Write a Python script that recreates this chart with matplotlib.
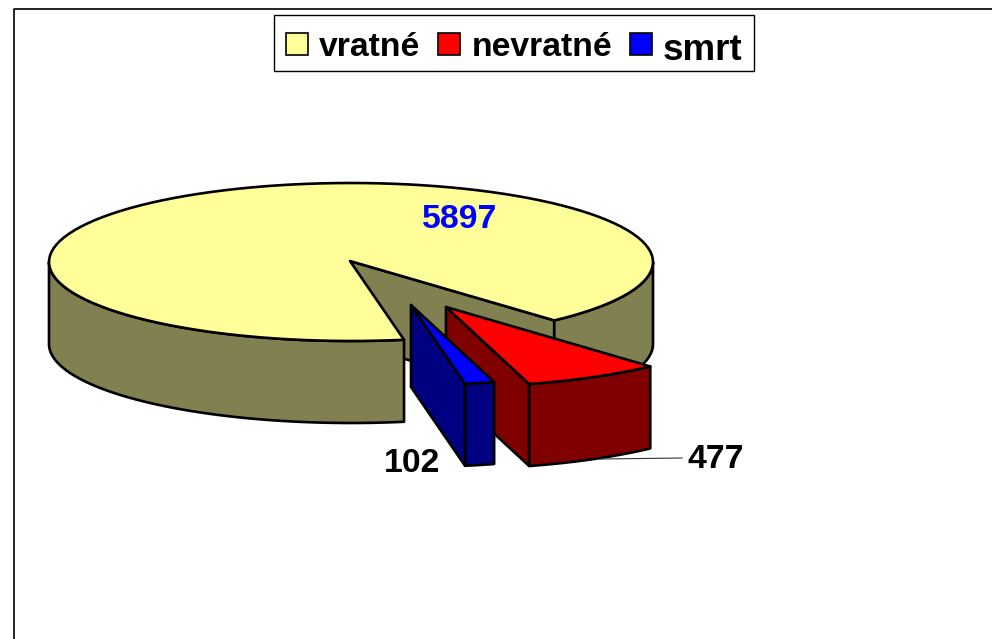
import numpy as np
import matplotlib
matplotlib.use("Agg")
import matplotlib.pyplot as plt
from matplotlib.patches import Polygon, Rectangle

labels = ["vratné", "nevratné", "smrt"]
values = [5897, 477, 102]
face_colors = ["#FFFF99", "#FF0000", "#0000FF"]
side_colors = ["#808050", "#800000", "#000080"]

plt.rcParams["font.family"] = ["Liberation Sans", "DejaVu Sans"]

W, H = 992, 639
fig = plt.figure(figsize=(W / 100, H / 100), dpi=100)
ax = fig.add_axes([0, 0, 1, 1])
ax.set_xlim(0, W)
ax.set_ylim(H, 0)
ax.axis("off")

# pie geometry in pixels
cx, cy, rx, ry, depth = 351, 262, 302, 79, 82
red_start = 47.7
lw = 1.9
total = sum(values)
spans = [v / total * 360 for v in values]
a_red_end = red_start + spans[1]
a_blue_end = a_red_end + spans[2]


def arc(a0, a1, ox=0, oy=0, dy=0, n=120):
    t = np.radians(np.linspace(a0, a1, n))
    return np.column_stack([cx + ox + rx * np.cos(t), cy + oy + ry * np.sin(t) + dy])


def poly(pts, fc, z):
    ax.add_patch(Polygon(pts, closed=True, fc=fc, ec="black", lw=lw, joinstyle="round", zorder=z))


def pt(a, ox=0, oy=0, dy=0):
    return arc(a, a, ox, oy, dy, 1)[0]


# frame
ax.plot([13.5, 13.5, W], [H, 9, 9], color="black", lw=1.2, zorder=1)

# main slice
apex = np.array([cx - 1, cy - 1])
a_y0, a_y1 = a_blue_end, red_start + 360
down = np.array([0, depth])
edge = pt(red_start)
poly([apex, edge, edge + down, apex + down], side_colors[0], 2)
poly(np.vstack([arc(a_y0, 180), arc(a_y0, 180, dy=depth)[::-1]]), side_colors[0], 3)
poly(np.vstack([arc(0, red_start), arc(0, red_start, dy=depth)[::-1]]), side_colors[0], 3)
poly(np.vstack([[apex], arc(a_y0, a_y1)]), face_colors[0], 4)

# red slice, exploded
ro = (96, 46)
rapex = apex + np.array(ro)
r0 = pt(a_red_end, *ro)
poly([rapex, r0, r0 + down, rapex + down], side_colors[1], 5)
poly(np.vstack([arc(red_start, a_red_end, *ro), arc(red_start, a_red_end, *ro, dy=depth)[::-1]]), side_colors[1], 5)
poly(np.vstack([[rapex], arc(red_start, a_red_end, *ro)]), face_colors[1], 5)

# blue slice, exploded, in front of the red one
bo = (61, 44)
bapex = apex + np.array(bo)
b0 = pt(a_blue_end, *bo)
poly(np.vstack([arc(a_red_end, a_blue_end, *bo), arc(a_red_end, a_blue_end, *bo, dy=depth)[::-1]]), side_colors[2], 6)
poly([bapex, b0, b0 + down, bapex + down], side_colors[2], 6)
poly(np.vstack([[bapex], arc(a_red_end, a_blue_end, *bo)]), face_colors[2], 6)

# data labels
ax.plot([600, 682], [459, 458], color="#333333", lw=0.8, zorder=5)
fs = 24.3
ax.text(460, 219, str(values[0]), color="#0000FF", fontsize=fs, fontweight="bold", ha="center", va="center", zorder=8)
ax.text(412, 463, str(values[2]), color="black", fontsize=fs, fontweight="bold", ha="center", va="center", zorder=8)
ax.text(716, 459, str(values[1]), color="black", fontsize=fs, fontweight="bold", ha="center", va="center", zorder=8)

# legend
ax.add_patch(Rectangle((274, 15), 480, 56, fc="white", ec="black", lw=1, zorder=7))
swatch_x = [286, 438, 630]
text_x = [319, 472, 663]
base_y = [56, 56, 60]
text_fs = [24.3, 24.3, 26.5]
for i, lab in enumerate(labels):
    ax.add_patch(Rectangle((swatch_x[i], 33), 22, 22, fc=face_colors[i], ec="black", lw=1.2, zorder=8))
    ax.text(text_x[i], base_y[i], lab, fontsize=text_fs[i], fontweight="bold", ha="left", va="baseline", zorder=8)

fig.savefig("out.png", dpi=100)
